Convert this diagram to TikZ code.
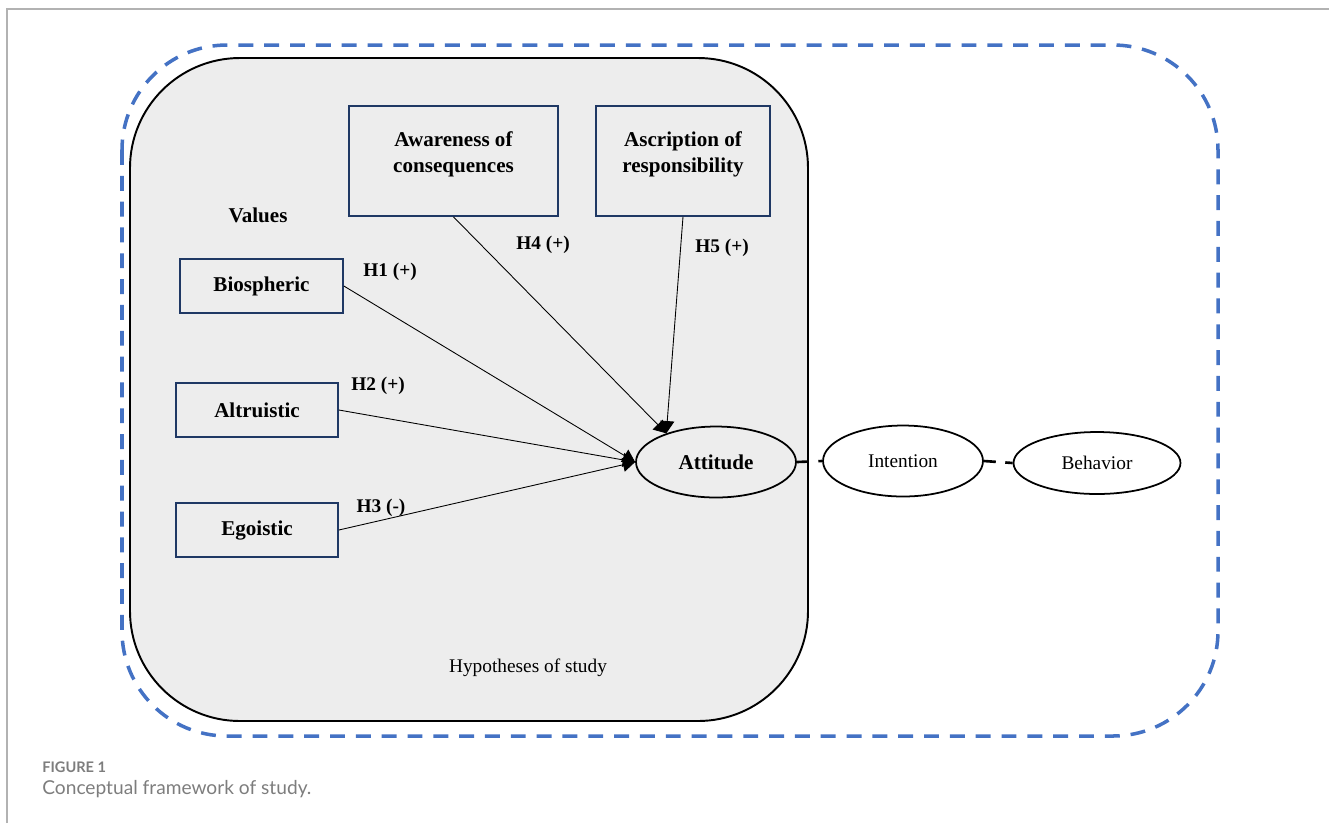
\documentclass[tikz,border=0pt]{standalone}
\usepackage{fontspec}
\setmainfont{Liberation Serif}
\newfontfamily\captionfont{Lato}
\usetikzlibrary{arrows.meta,shapes.geometric}

\definecolor{dashblue}{RGB}{68,114,196}
\definecolor{boxnavy}{RGB}{31,56,100}
\definecolor{panelgray}{RGB}{237,237,237}
\definecolor{capgray}{RGB}{125,125,125}
\definecolor{framegray}{RGB}{178,178,178}

\tikzset{
  varbox/.style={draw=boxnavy, line width=1pt, fill=panelgray, align=center, inner sep=0pt,
    font=\bfseries\fontsize{12}{14.7}\selectfont},
  construct/.style={ellipse, draw, line width=1pt, inner sep=0pt, fill=white,
    minimum width=3.2cm, minimum height=1.42cm, font=\fontsize{11}{13}\selectfont},
  hyparrow/.style={-{Triangle[length=7pt,width=8pt]}, line width=0.5pt},
  hlabel/.style={font=\bfseries\fontsize{11}{13}\selectfont},
  linkdash/.style={line width=1.5pt, dash pattern=on 6.8pt off 5.4pt}
}

\begin{document}
\begin{tikzpicture}[x=0.02cm, y=-0.02cm]
  \useasboundingbox (0,0) rectangle (1329,823);
  % page frame
  \draw[framegray, line width=0.6pt] (7,823) -- (7,9) -- (1329,9);
  % outer dashed boundary
  \draw[dashblue, line width=2pt, dash pattern=on 8.5pt off 6.2pt, rounded corners=2.1cm]
    (122,45) rectangle (1218,736);
  % hypotheses panel
  \draw[line width=1.1pt, fill=panelgray, rounded corners=2.2cm] (130,58) rectangle (808,721);
  \node (hyp) at (528,668) {\fontsize{11}{13}\selectfont Hypotheses of study};

  % value boxes
  \node[font=\bfseries\fontsize{12}{14}\selectfont] (values) at (258,215) {Values};
  \node[varbox, minimum width=3.26cm, minimum height=1.08cm] (bio) at (261.5,286) {Biospheric};
  \node[varbox, minimum width=3.24cm, minimum height=1.08cm] (alt) at (257,410) {Altruistic};
  \node[varbox, minimum width=3.24cm, minimum height=1.08cm] (ego) at (257,530) {Egoistic};
  \node[varbox, minimum width=4.18cm, minimum height=2.2cm, text depth=0.35cm] (aware) at (453.5,161) {Awareness of\\consequences};
  \node[varbox, minimum width=3.48cm, minimum height=2.2cm, text depth=0.35cm] (ascr) at (683,161) {Ascription of\\responsibility};

  % constructs
  \node[construct, fill=panelgray, font=\bfseries\fontsize{12}{14}\selectfont] (att) at (716,462) {Attitude};
  \node[construct] (int) at (903,461) {Intention};
  \node[construct, minimum width=3.34cm, minimum height=1.24cm] (beh) at (1097,463) {Behavior};

  % hypotheses
  \draw[hyparrow] (bio.east) -- (att.west);
  \draw[hyparrow] (alt.east) -- (att.west);
  \draw[hyparrow] (ego.east) -- (att.west);
  \draw[hyparrow] (aware.south) -- (att.150);
  \draw[hyparrow] (ascr.south) -- (att.150);
  \node[hlabel] (h1) at (390,272) {H1 (+)};
  \node[hlabel] (h2) at (378,386) {H2 (+)};
  \node[hlabel] (h3) at (381,508) {H3 (-)};
  \node[hlabel] (h4) at (543,245) {H4 (+)};
  \node[hlabel] (h5) at (722,248) {H5 (+)};

  % links outside the study
  \draw[linkdash] (att.east) -- (int.west);
  \draw[linkdash] (int.east) -- (beh.west);

  % caption
  \node[anchor=west, text=capgray, font=\captionfont\bfseries\fontsize{8.3}{10}\selectfont, inner sep=0pt] (fig) at (42,767) {FIGURE 1};
  \node[anchor=west, text=capgray, font=\captionfont\fontsize{10.9}{12}\selectfont, inner sep=0pt] (cap) at (42,789) {Conceptual framework of study.};
\end{tikzpicture}
\end{document}
